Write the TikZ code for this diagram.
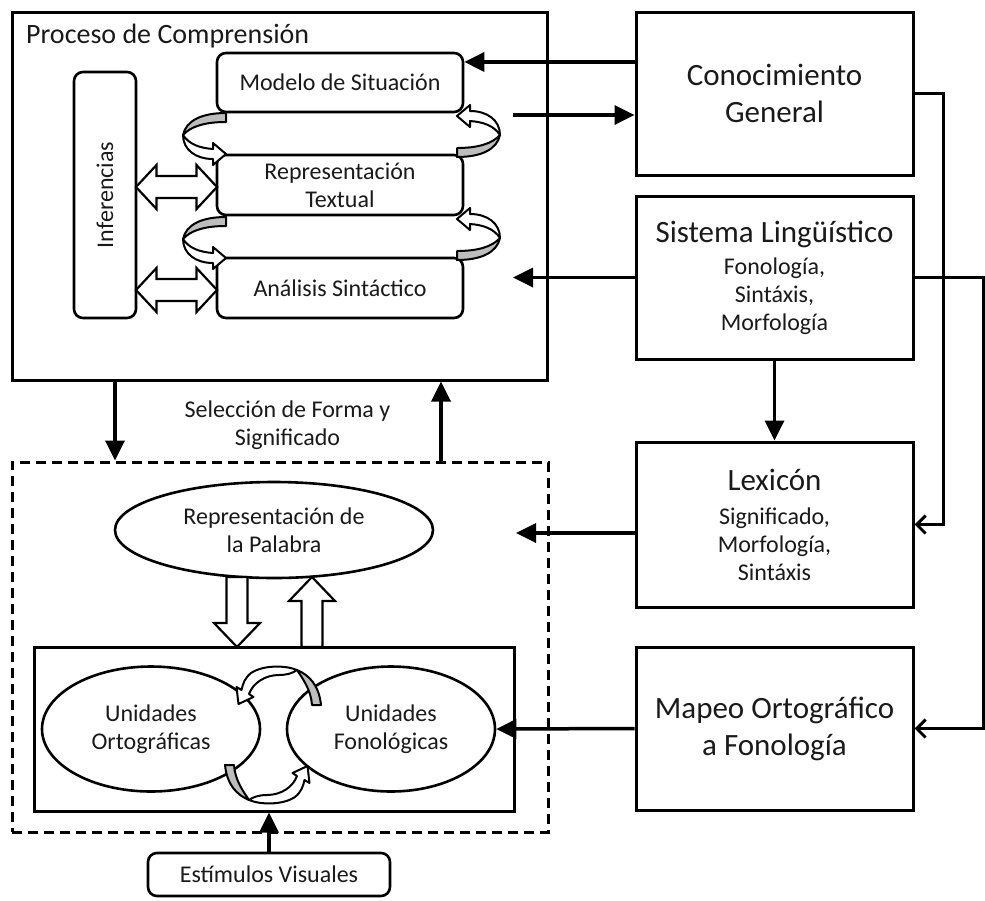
\documentclass[tikz,border=0pt]{standalone}
\usepackage{fontspec}
\setmainfont{Carlito}
\usetikzlibrary{arrows.meta,shapes.geometric,calc}
\newcommand\sizeL{\fontsize{31}{37}\selectfont}
\newcommand\sizeM{\fontsize{24}{28}\selectfont}
\newcommand\sizeT{\fontsize{28}{32}\selectfont}
\definecolor{ink}{HTML}{1A1A1A}
\definecolor{curlgrey}{HTML}{BDBDBD}

\tikzset{
  curl/.style={draw=black, line width=2pt, line join=round},
  blockarrow/.style={draw=black, line width=2.2pt, fill=white, line join=miter},
  % ribbon arrow curling round the side of two stacked boxes
  stackcurl/.pic={
    \draw[curl, fill=curlgrey] (0,0) .. controls (-25,0) and (-40,8) .. (-43,22)
          .. controls (-35,13) and (-20,9) .. (0,9) -- cycle;
    \draw[curl, fill=white] (-43,22) .. controls (-43,37) and (-30,46) .. (-13,46)
          -- (-13,52) -- (0,41) -- (-13,30) -- (-13,36)
          .. controls (-27,35) and (-37,31) .. (-43,22) -- cycle;
  },
  % ribbon arrow arching between the two unit ellipses
  ringarrow/.pic={
    \draw[curl, fill=curlgrey] (48,-30) .. controls (46,-50) and (36,-60) .. (24,-65)
          .. controls (30,-56) and (38,-45) .. (39,-30) -- cycle;
    \draw[curl, fill=white] (24,-65) .. controls (12,-70) and (-10,-70) .. (-22,-62)
          .. controls (-28,-57) and (-30,-52) .. (-31.5,-45)
          -- (-36.5,-48) -- (-34.5,-31) -- (-19.5,-38) -- (-24,-41)
          .. controls (-20,-52) and (-8,-60) .. (6,-60)
          .. controls (14,-60) and (20,-62) .. (24,-65) -- cycle;
  },
  % two-headed block arrow
  dblarrow/.pic={
    \draw[blockarrow] (-40.5,0) -- (-20,-22) -- (-20,-11) -- (20,-11) -- (20,-22)
          -- (40.5,0) -- (20,22) -- (20,11) -- (-20,11) -- (-20,22) -- cycle;
  },
  % hollow block arrow, tip at the origin, pointing down
  downblock/.pic={
    \draw[blockarrow] (-10.5,-70) -- (-10.5,-24) -- (-23,-24) -- (0,0) -- (23,-24)
          -- (10.5,-24) -- (10.5,-70) -- cycle;
  },
}

\begin{document}
\begin{tikzpicture}[x=1pt,y=-1pt,
  every node/.style={text=ink, font=\sizeM, inner sep=0pt, align=center},
  box/.style={draw=black, line width=3pt, fill=white},
  rbox/.style={draw=black, line width=2.6pt, fill=white, rounded corners=9pt},
  oval/.style={draw=black, line width=2.6pt, fill=white, ellipse},
  conn/.style={line width=3.5pt, -{Triangle[length=20pt,width=19pt]}},
  thinconn/.style={line width=3pt, -{Straight Barb[length=9pt,width=18pt]}},
]
\useasboundingbox (0,0) rectangle (985,900);
\fill[white] (0,0) rectangle (985,900);

% comprehension process
\node[box, minimum width=535pt, minimum height=368pt] (pc) at (279.5,196) {};
\node[anchor=west, font=\sizeT] (ttl) at (26,36) {Proceso de Comprensión};
\node[rbox, rotate=90, minimum width=246pt, minimum height=62pt] (inf) at (105,195) {Inferencias};
\node[rbox, minimum width=246pt, minimum height=59pt] (ms) at (340,82.5) {Modelo de Situación};
\node[rbox, minimum width=246pt, minimum height=60pt] (rt) at (340,185) {Representación\\Textual};
\node[rbox, minimum width=246pt, minimum height=60pt] (as) at (340,288) {Análisis Sintáctico};

% knowledge sources
\node[box, minimum width=277pt, minimum height=163pt, font=\sizeL] (cg) at (774.5,93.5) {Conocimiento\\General};
\node[box, minimum width=277pt, minimum height=163pt] (sl) at (774.5,277.5)
  {{\sizeL Sistema Lingüístico}\\[4pt]Fonología,\\Sintáxis,\\Morfología};
\node[box, minimum width=277pt, minimum height=165pt] (lx) at (774.5,524.5)
  {{\sizeL Lexicón}\\[6pt]Significado,\\Morfología,\\Sintáxis};
\node[box, minimum width=277pt, minimum height=163pt, font=\sizeL] (mp) at (774.5,728.5) {Mapeo Ortográfico\\a Fonología};

% word identification
\node[draw=black, line width=3pt, dash pattern=on 10pt off 6pt, minimum width=536pt, minimum height=370pt] (db) at (280,647) {};
\node (sel) at (287.5,425) {Selección de Forma y\\Significado};
\node[oval, minimum width=318pt, minimum height=96pt] (wp) at (274,530) {Representación de\\la Palabra};
\node[box, minimum width=480pt, minimum height=164pt] (ib) at (274,729) {};
\node[oval, minimum width=218pt, minimum height=125pt] (uo) at (151,729) {Unidades\\Ortográficas};
\node[oval, minimum width=208pt, minimum height=125pt] (uf) at (391,729) {Unidades\\Fonológicas};
\node[rbox, minimum width=242pt, minimum height=43pt] (ev) at (269,874.5) {Estímulos Visuales};

% block arrows and ribbon arrows
\pic at (237,647) {downblock};
\pic[rotate=180] at (312,577) {downblock};
\pic at (176.5,187) {dblarrow};
\pic at (176.5,290) {dblarrow};
\pic at (226,113) {stackcurl};
\pic[rotate=180] at (457,157) {stackcurl};
\pic at (226,217) {stackcurl};
\pic[rotate=180] at (457,260) {stackcurl};
\pic at (273,735) {ringarrow};
\pic[rotate=180] at (273,735) {ringarrow};

% connectors
\coordinate (cgA) at ($(cg.north west)!0.31!(cg.south west)$);
\coordinate (msout) at (513,115);
\coordinate (slin) at (513,277.5);
\coordinate (lxin) at (516,533);
\coordinate (dl) at (115,0);
\coordinate (ul) at (441,0);
\coordinate (rv1) at (943,0);
\coordinate (rv2) at (983.5,0);

\draw[conn] (cgA) -- (cgA -| ms.east);
\draw[conn] (msout) -- (msout -| cg.west);
\draw[conn] (sl.west) -- (slin);
\draw[conn] (sl.south) -- (lx.north);
\draw[conn] (lxin -| lx.west) -- (lxin);
\draw[conn] (mp.west) -- (uf.east);
\draw[conn] (pc.south -| dl) -- (db.north -| dl);
\draw[conn] (db.north -| ul) -- (pc.south -| ul);
\draw[conn] (ev.north) -- (ev.north |- ib.south);

\draw[thinconn] (cg.east) -- (cg.east -| rv1) -- (lx.east -| rv1) -- (lx.east);
\draw[thinconn] (sl.east) -- (sl.east -| rv2) -- (mp.east -| rv2) -- (mp.east);
\end{tikzpicture}
\end{document}
